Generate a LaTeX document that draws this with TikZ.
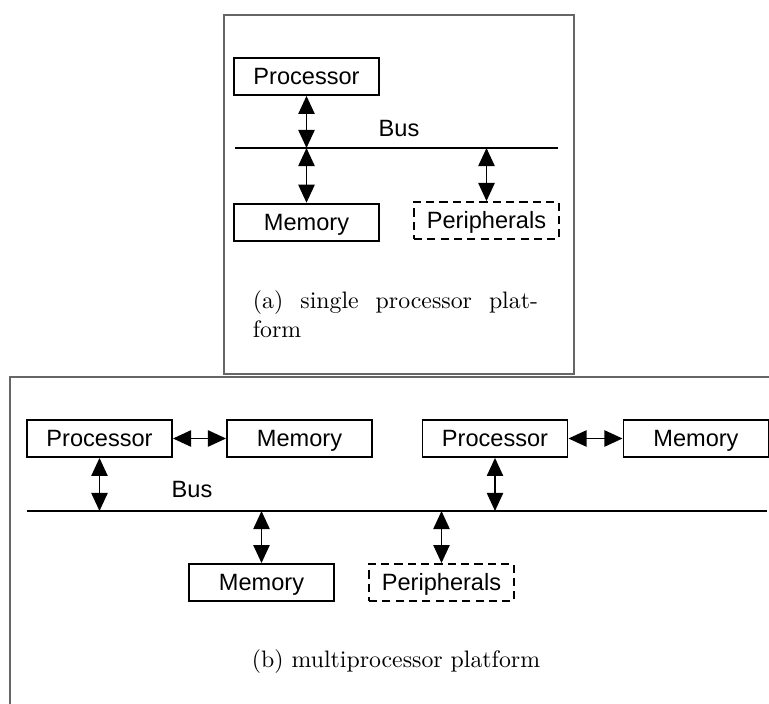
\documentclass[tikz,border=0pt]{standalone}
\usepackage{fontspec}
\newfontfamily\boxfont{Liberation Sans}
\usetikzlibrary{arrows.meta}
\usetikzlibrary{positioning}

\begin{document}
\begin{tikzpicture}[x=0.42pt,y=-0.42pt,>={Triangle[length=7.6pt,width=6.8pt]},
	line width=0.8pt,
	unit/.style={draw,minimum width=60.9pt,minimum height=15.5pt,inner sep=0pt,
		text height=7pt,text depth=0pt,font=\boxfont\fontsize{9.9}{12}\selectfont},
	optional/.style={unit,dash pattern=on 3.4pt off 2.2pt},
	frame/.style={draw=black!60,line width=0.6pt},
	buslabel/.style={anchor=base,font=\boxfont\fontsize{9.9}{12}\selectfont}]
	\useasboundingbox (0,0) rectangle (769,704);
	
	% (a) single processor
	\draw[frame] (224,15) rectangle (574,374);
	\node[unit] (procA) at (306.5,76.5) {Processor};
	\node[unit] (memA) [below=44.9pt of procA] {Memory};
	\node[optional] (periA) at (486.5,220.5) {Peripherals};
	\coordinate (busAl) at (235,148);
	\coordinate (busAr) at (558,148);
	\draw (busAl) -- (busAr);
	\node[buslabel] (busA) at (399,137) {Bus};
	\draw[<->] (procA.south) -- (procA.south |- busAl);
	\draw[<->] (procA.south |- busAl) -- (memA.north);
	\draw[<->] (periA.north |- busAl) -- (periA.north);
	\node[anchor=base west,inner sep=0pt,text width=119.7pt,align=left] (capA) at (252,309)
		{(a)\hfill single\hfill processor\hfill plat-\\form};
	
	% (b) multiprocessor
	\draw[frame] (769,377) -- (10,377) -- (10,704);
	\node[unit] (procB) at (99.5,438.5) {Processor};
	\node[unit] (memB) [right=22.3pt of procB] {Memory};
	\node[unit] (procC) at (495,438.5) {Processor};
	\node[unit] (memC) [right=22.7pt of procC] {Memory};
	\node[unit] (memD) at (261.5,582.5) {Memory};
	\node[optional] (periB) at (441.5,582.5) {Peripherals};
	\coordinate (busBl) at (27,511);
	\coordinate (busBr) at (767,511);
	\draw (busBl) -- (busBr);
	\node[buslabel] (busB) at (192,498) {Bus};
	\draw[<->] (procB) -- (memB);
	\draw[<->] (procC) -- (memC);
	\draw[<->] (procB.south) -- (procB.south |- busBl);
	\draw[<->] (procC.south) -- (procC.south |- busBl);
	\draw[<->] (memD.north |- busBl) -- (memD.north);
	\draw[<->] (periB.north |- busBl) -- (periB.north);
	\node[anchor=base] (capB) at (396,667) {(b) multiprocessor platform};
\end{tikzpicture}
\end{document}
